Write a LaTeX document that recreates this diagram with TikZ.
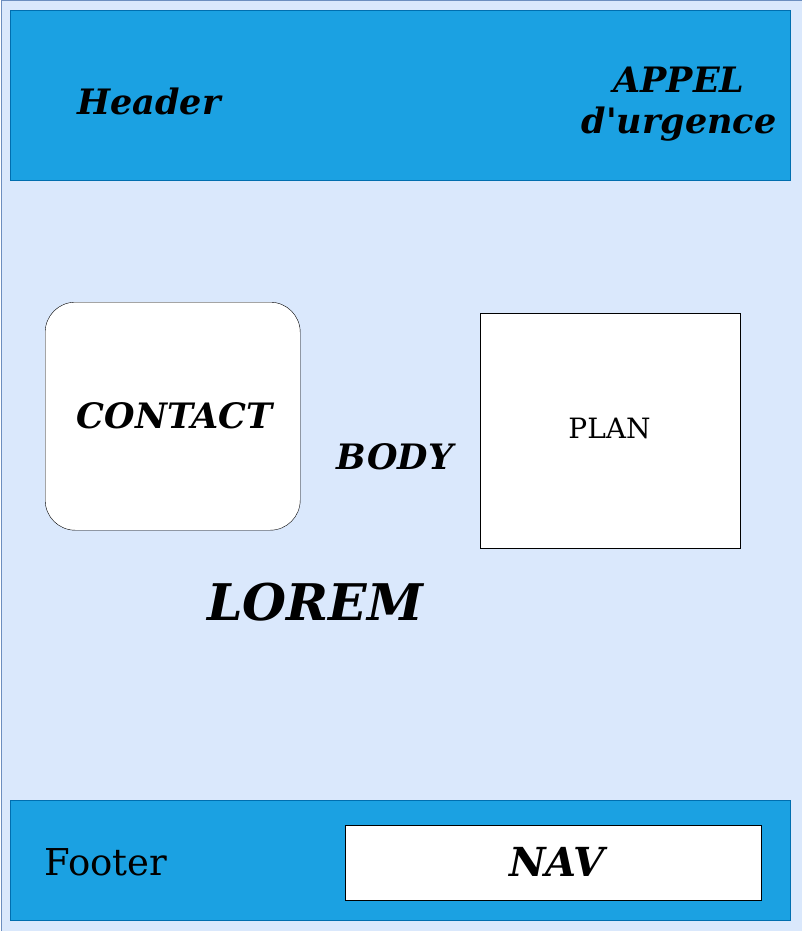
\documentclass[tikz,border=0pt]{standalone}
\usepackage{fontspec}
\setmainfont{DejaVu Serif}
\usepackage{tikz}
\usetikzlibrary{positioning}
\definecolor{pagefill}{HTML}{DAE8FC}
\definecolor{pageline}{HTML}{6C8EBF}
\definecolor{barfill}{HTML}{1BA1E2}
\definecolor{barline}{HTML}{006EAF}
\tikzset{
  block/.style={rectangle, inner sep=0pt, anchor=north west},
  bar/.style={block, draw=barline, fill=barfill, minimum width=780pt},
  bold/.style={font=\fontsize{35}{41}\selectfont\bfseries\itshape},
  plain/.style={font=\fontsize{28}{34}\selectfont}
}
\begin{document}
\begin{tikzpicture}[x=1pt,y=-1pt]
        \useasboundingbox (0,0) rectangle (802,931);
        \node[block, draw=pageline, fill=pagefill, minimum width=801pt, minimum height=930pt](page) at (0.5,0.5) {};
        \node[bar, minimum height=170pt](header) at (10,10) {};
        \node[bar, minimum height=120pt](footer) at (10,800) {};
        \node[bold] (htext) at (149,101) {Header};
        \node[bold, align=center] (appel) at (679,104) {APPEL\\d\textquotesingle urgence};
        \node[block, draw, fill=white, rounded corners=30pt, minimum width=255pt, minimum height=228pt](contact) at (45,302) {};
        \node[bold] (ctext) at (174.5,416) {CONTACT};
        \node[block, draw, fill=white, minimum width=260pt, minimum height=235pt](plan) at (480,313) {};
        \node[plain] (ptext) at (609.5,428.5) {PLAN};
        \node[bold] (body) at (395,457) {BODY};
        \node[bold, font=\fontsize{50.5}{60}\selectfont\bfseries\itshape] (lorem) at (315,602) {LOREM};
        \node[plain, font=\fontsize{37}{42}\selectfont] (ftext) at (106,862) {Footer};
        \node[block, draw, fill=white, minimum width=416pt, minimum height=75pt](nav) at (345,825) {};
        \node[bold, font=\fontsize{40}{48}\selectfont\bfseries\itshape] (ntext) at (557,862) {NAV};
    \end{tikzpicture}
\end{document}
